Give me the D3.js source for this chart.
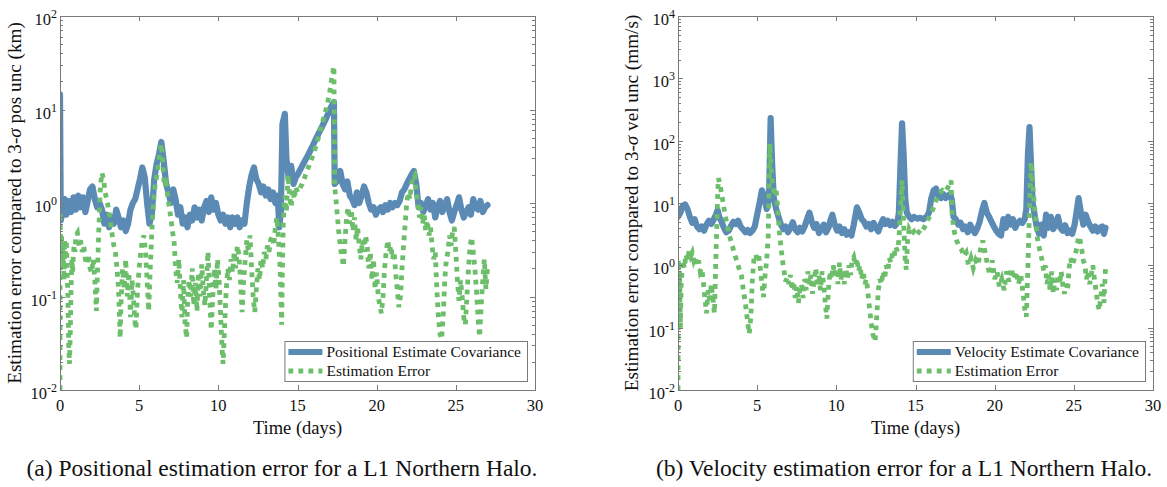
<!DOCTYPE html>
<html lang="en">
<head>
<meta charset="UTF-8">
<title>Estimation error, L1 Northern Halo</title>
<script src="https://d3js.org/d3.v7.min.js"></script>
<style>
  body { margin: 0; background: #fff; }
  svg text { font-family: "Liberation Serif", "Times New Roman", serif; fill: #111; }
</style>
</head>
<body>
<div id="graph"></div>
<script>
// ---- values: [time (days), error] ----
var xTicks = [0, 5, 10, 15, 20, 25, 30];
var posExp = [-2, -1, 0, 1, 2];
var velExp = [-2, -1, 0, 1, 2, 3, 4];

// (a) position, km
var posCov = [[0,14.5],[0.05,0.65],[0.15,0.8],[0.3,1.1],[0.4,0.75],[0.55,1.05],[0.7,0.8],[0.85,1.15],[1.0,0.85],[1.15,1.2],
  [1.3,0.9],[1.45,1.15],[1.6,0.8],[1.75,1.05],[1.9,1.4],[2.05,1.5],[2.2,1.1],[2.35,0.9],[2.5,1.0],[2.65,0.85],
  [2.8,0.6],[2.95,0.75],[3.1,0.55],[3.25,0.7],[3.4,0.6],[3.55,0.85],[3.7,0.7],[3.85,0.55],[4.0,0.65],[4.15,0.5],
  [4.3,0.6],[4.45,0.85],[4.6,1.0],[4.75,1.1],[4.9,1.4],[5.05,1.8],[5.2,2.4],[5.35,1.9],[5.5,1.0],[5.65,0.6],
  [5.8,0.75],[5.95,1.8],[6.1,2.6],[6.25,3.3],[6.4,4.5],[6.55,2.8],[6.7,1.6],[6.85,1.3],[7.0,1.0],[7.15,1.4],
  [7.3,1.1],[7.45,0.75],[7.6,0.9],[7.75,0.6],[7.9,0.7],[8.05,0.55],[8.2,0.75],[8.35,0.65],[8.5,0.9],[8.65,0.7],
  [8.8,0.85],[8.95,0.65],[9.1,0.9],[9.25,1.05],[9.4,0.8],[9.55,1.15],[9.7,0.85],[9.85,1.0],[10.0,0.75],[10.15,0.65],
  [10.3,0.75],[10.45,0.6],[10.6,0.7],[10.75,0.55],[10.9,0.7],[11.05,0.6],[11.2,0.7],[11.35,0.55],[11.5,0.65],[11.65,0.6],
  [11.8,1.0],[11.95,1.5],[12.1,2.0],[12.25,2.4],[12.4,1.8],[12.55,1.6],[12.7,1.3],[12.85,1.5],[13.0,1.2],[13.15,1.4],
  [13.3,1.1],[13.45,1.3],[13.6,1.0],[13.75,1.2],[13.85,0.55],[13.95,0.8],[14.05,7],[14.2,9],[14.3,3],[14.45,1.8],
  [14.6,2.5],[14.75,1.6],[14.9,1.9],[15.0,2.0],[15.3,2.5],[15.6,3.1],[15.9,3.9],[16.2,5.0],[16.5,6.3],[16.8,8.0],
  [17.1,10.5],[17.3,12],[17.35,1.6],[17.5,1.7],[17.7,2.2],[17.85,1.6],[18.0,1.4],[18.15,1.7],[18.3,1.2],[18.45,1.1],
  [18.6,0.95],[18.75,1.3],[18.9,1.0],[19.05,1.2],[19.2,1.5],[19.35,1.3],[19.5,1.0],[19.65,0.85],[19.8,0.9],[19.95,0.75],
  [20.1,0.85],[20.25,0.9],[20.4,0.8],[20.55,0.95],[20.7,0.85],[20.85,1.0],[21.0,0.9],[21.15,1.0],[21.3,0.95],[21.45,1.05],
  [21.6,1.3],[21.75,1.4],[21.9,1.6],[22.05,1.8],[22.2,2.0],[22.35,2.2],[22.5,1.6],[22.65,0.9],[22.8,1.0],[22.95,0.8],
  [23.1,0.95],[23.25,1.1],[23.4,0.85],[23.55,1.0],[23.7,0.7],[23.85,0.9],[24.0,1.05],[24.15,0.8],[24.3,0.95],[24.45,1.1],
  [24.6,0.8],[24.75,0.65],[24.9,0.8],[25.05,0.95],[25.2,1.15],[25.35,0.85],[25.5,0.7],[25.65,0.8],[25.8,0.9],[25.95,0.75],
  [26.1,1.1],[26.25,0.9],[26.4,0.85],[26.55,1.05],[26.7,0.8],[26.85,0.9],[27.0,0.95]];

var posErr = [[0,0.01],[0.01,0.8],[0.05,0.25],[0.1,0.45],[0.15,0.2],[0.2,0.35],[0.25,0.15],[0.3,0.4],[0.35,0.25],[0.4,0.4],
  [0.45,0.2],[0.5,0.1],[0.55,0.03],[0.6,0.019],[0.65,0.04],[0.7,0.12],[0.75,0.25],[0.8,0.18],[0.85,0.3],[0.9,0.35],
  [0.95,0.3],[1.0,0.45],[1.1,0.48],[1.2,0.35],[1.3,0.4],[1.4,0.3],[1.5,0.35],[1.6,0.25],[1.7,0.22],[1.8,0.28],
  [1.9,0.2],[2.0,0.18],[2.1,0.25],[2.2,0.15],[2.3,0.07],[2.35,0.15],[2.45,0.5],[2.55,1.5],[2.65,2.1],[2.75,1.8],
  [2.85,1.3],[3.0,1.0],[3.1,0.8],[3.2,0.6],[3.3,0.45],[3.4,0.35],[3.5,0.3],[3.6,0.2],[3.7,0.12],[3.8,0.036],
  [3.85,0.08],[3.95,0.2],[4.05,0.12],[4.15,0.25],[4.25,0.1],[4.35,0.18],[4.45,0.06],[4.55,0.15],[4.65,0.09],[4.75,0.05],
  [4.8,0.045],[4.9,0.12],[5.0,0.2],[5.1,0.3],[5.2,0.4],[5.3,0.45],[5.4,0.3],[5.5,0.15],[5.6,0.07],[5.7,0.2],
  [5.8,0.5],[5.9,1.0],[6.0,1.5],[6.1,1.9],[6.2,2.5],[6.3,3.5],[6.4,4.3],[6.5,2.5],[6.6,1.5],[6.7,1.6],
  [6.8,1.2],[6.9,0.9],[7.0,0.7],[7.1,0.5],[7.2,0.4],[7.3,0.2],[7.4,0.14],[7.5,0.25],[7.6,0.12],[7.7,0.06],
  [7.8,0.15],[7.9,0.05],[8.0,0.036],[8.05,0.08],[8.15,0.15],[8.25,0.1],[8.35,0.2],[8.45,0.08],[8.55,0.14],[8.65,0.07],
  [8.75,0.18],[8.85,0.1],[8.95,0.22],[9.05,0.12],[9.15,0.08],[9.25,0.15],[9.35,0.3],[9.45,0.1],[9.55,0.044],[9.65,0.1],
  [9.75,0.2],[9.85,0.12],[9.95,0.25],[10.05,0.15],[10.15,0.06],[10.25,0.025],[10.3,0.019],[10.4,0.05],[10.5,0.12],[10.6,0.2],
  [10.7,0.15],[10.8,0.25],[10.9,0.18],[11.0,0.3],[11.1,0.2],[11.2,0.35],[11.3,0.28],[11.4,0.15],[11.5,0.068],[11.6,0.15],
  [11.7,0.25],[11.8,0.4],[11.9,0.3],[12.0,0.45],[12.1,0.2],[12.2,0.1],[12.3,0.068],[12.4,0.12],[12.5,0.2],[12.6,0.15],
  [12.7,0.25],[12.8,0.2],[12.9,0.3],[13.0,0.25],[13.1,0.35],[13.2,0.3],[13.3,0.4],[13.4,0.45],[13.5,0.35],[13.6,0.55],
  [13.7,0.7],[13.8,0.4],[13.9,0.2],[14.0,0.05],[14.05,0.2],[14.1,0.6],[14.2,1.2],[14.3,0.8],[14.4,2.0],[14.5,1.2],
  [14.6,0.9],[14.7,1.4],[14.8,1.1],[14.9,1.5],[15.0,1.3],[15.3,1.6],[15.6,2.2],[15.9,3.0],[16.2,4.2],[16.5,6.5],
  [16.8,10],[17.0,14],[17.15,21],[17.3,29],[17.35,1.5],[17.45,1.0],[17.6,0.5],[17.75,0.3],[17.9,0.21],[18.0,0.4],
  [18.1,0.7],[18.2,0.9],[18.3,0.6],[18.4,0.85],[18.5,0.5],[18.6,0.7],[18.7,0.4],[18.8,0.55],[18.9,0.35],[19.0,0.25],
  [19.1,0.4],[19.2,0.3],[19.3,0.45],[19.4,0.35],[19.5,0.2],[19.6,0.3],[19.7,0.15],[19.8,0.25],[19.9,0.12],[20.0,0.18],
  [20.1,0.1],[20.2,0.08],[20.3,0.066],[20.4,0.1],[20.5,0.2],[20.6,0.3],[20.7,0.4],[20.8,0.3],[20.9,0.35],[21.0,0.25],
  [21.1,0.3],[21.2,0.18],[21.3,0.12],[21.4,0.077],[21.5,0.1],[21.6,0.2],[21.7,0.35],[21.8,0.6],[21.9,1.0],[22.0,1.3],
  [22.1,1.1],[22.2,1.6],[22.3,1.9],[22.4,2.0],[22.5,1.3],[22.6,1.0],[22.7,0.7],[22.8,0.9],[22.9,0.6],[23.0,0.75],
  [23.1,0.5],[23.2,0.65],[23.3,0.45],[23.4,0.55],[23.5,0.35],[23.6,0.25],[23.7,0.3],[23.8,0.12],[23.9,0.06],[24.0,0.04],
  [24.1,0.035],[24.2,0.06],[24.3,0.15],[24.4,0.25],[24.5,0.3],[24.6,0.45],[24.7,0.35],[24.8,0.5],[24.9,0.55],[25.0,0.3],
  [25.1,0.15],[25.2,0.09],[25.3,0.15],[25.4,0.1],[25.5,0.06],[25.6,0.05],[25.7,0.1],[25.8,0.2],[25.9,0.35],[26.0,0.43],
  [26.1,0.3],[26.2,0.2],[26.3,0.12],[26.4,0.06],[26.5,0.037],[26.6,0.08],[26.7,0.15],[26.8,0.25],[26.9,0.12],[27.0,0.2]];

// (b) velocity, mm/s
var velCov = [[0,6.0],[0.15,7],[0.3,9],[0.45,9.5],[0.6,8],[0.75,6],[0.9,4.8],[1.05,5.5],[1.2,4.2],[1.35,3.8],
  [1.5,4.2],[1.65,3.6],[1.8,4.5],[1.95,5.2],[2.1,4.6],[2.25,5.4],[2.4,6.5],[2.5,7.7],[2.6,6],[2.75,5],
  [2.9,4],[3.05,3.4],[3.2,3.6],[3.35,4.3],[3.5,5],[3.65,4.6],[3.8,5.2],[3.95,4.2],[4.1,3.8],[4.25,3.4],
  [4.4,3.7],[4.55,3.3],[4.7,3.6],[4.85,4.2],[5.0,6.5],[5.15,10],[5.3,16],[5.45,13],[5.6,8],[5.75,12],
  [5.85,230],[5.95,40],[6.05,12],[6.2,8],[6.35,6],[6.5,4.5],[6.65,3.8],[6.8,4.2],[6.95,3.4],[7.1,4.0],
  [7.25,4.9],[7.4,3.8],[7.55,3.4],[7.7,4.0],[7.85,3.5],[8.0,4.2],[8.15,5.5],[8.3,7],[8.45,5.0],[8.6,4.0],
  [8.75,4.6],[8.9,3.3],[9.05,3.8],[9.2,4.5],[9.35,3.4],[9.5,4.0],[9.65,5.5],[9.75,6.5],[9.9,4.5],[10.05,3.6],
  [10.2,4.2],[10.35,3.3],[10.5,3.8],[10.65,3.1],[10.8,3.4],[10.95,3.0],[11.1,4.5],[11.3,8.5],[11.45,7],[11.6,5.5],
  [11.75,5.0],[11.9,4.2],[12.05,4.6],[12.2,3.8],[12.35,4.8],[12.5,4.0],[12.65,3.5],[12.8,4.5],[12.95,5.5],[13.1,4.6],
  [13.25,5.2],[13.4,4.4],[13.55,5.0],[13.7,4.3],[13.85,4.8],[13.95,7],[14.05,40],[14.15,190],[14.25,60],[14.35,12],
  [14.45,7],[14.6,6],[14.75,5.5],[14.9,6],[15.1,5.6],[15.3,5.8],[15.5,5.5],[15.7,6.0],[15.85,7],[16.0,12],
  [16.15,16],[16.3,17],[16.45,13],[16.6,12],[16.75,14],[16.9,12],[17.05,13],[17.2,14],[17.3,11],[17.4,6],
  [17.55,5.5],[17.7,4.5],[17.85,4.8],[18.0,3.8],[18.15,4.2],[18.3,3.4],[18.45,4.5],[18.6,3.8],[18.75,3.3],[18.9,3.9],
  [19.05,5.0],[19.2,7.5],[19.35,10],[19.5,7],[19.65,6],[19.8,5],[19.95,4.2],[20.1,3.6],[20.25,3.2],[20.4,3.0],
  [20.55,5.5],[20.7,4.0],[20.85,6.0],[21.0,4.5],[21.15,5.5],[21.3,4.0],[21.45,4.8],[21.6,5.2],[21.75,4.8],[21.9,5.5],
  [22.0,8],[22.1,60],[22.2,165],[22.3,40],[22.4,10],[22.5,7],[22.65,4.2],[22.8,3.2],[22.95,4.5],[23.1,3.0],
  [23.25,6.5],[23.4,4.0],[23.55,6.0],[23.7,3.8],[23.85,4.5],[24.0,6.0],[24.15,4.0],[24.3,3.6],[24.45,4.4],[24.6,3.3],
  [24.75,3.6],[24.9,3.2],[25.05,4.5],[25.2,8],[25.3,12],[25.45,7],[25.6,4.5],[25.75,6.5],[25.9,5.0],[26.05,4.2],
  [26.2,3.6],[26.35,4.2],[26.5,3.5],[26.65,4.0],[26.8,4.2],[26.9,3.2],[27.0,4.0]];

var velErr = [[0,0.01],[0.02,1.2],[0.05,0.3],[0.1,0.8],[0.15,0.1],[0.2,0.5],[0.3,1.2],[0.4,0.9],[0.5,1.5],[0.6,1.2],
  [0.7,1.7],[0.8,1.4],[0.9,1.6],[1.0,1.2],[1.1,1.4],[1.2,1.0],[1.3,1.2],[1.4,0.8],[1.5,0.9],[1.6,0.55],
  [1.7,0.3],[1.8,0.17],[1.9,0.4],[2.0,0.25],[2.1,0.5],[2.2,0.3],[2.3,0.17],[2.4,1.5],[2.5,12],[2.55,25],
  [2.65,20],[2.8,12],[2.95,7],[3.1,4.5],[3.25,3.0],[3.4,2.2],[3.55,1.6],[3.7,1.2],[3.85,0.9],[4.0,0.7],
  [4.1,0.45],[4.2,0.3],[4.3,0.2],[4.4,0.12],[4.5,0.08],[4.6,0.15],[4.7,0.6],[4.8,1.3],[4.9,1.5],[5.0,1.2],
  [5.1,1.4],[5.2,0.9],[5.3,0.5],[5.4,0.31],[5.5,0.7],[5.6,1.2],[5.7,3],[5.8,90],[5.9,30],[6.0,18],
  [6.1,14],[6.2,16],[6.3,8],[6.4,3.5],[6.5,2.0],[6.6,1.2],[6.7,0.8],[6.8,0.55],[6.9,0.65],[7.0,0.5],
  [7.1,0.7],[7.2,0.4],[7.3,0.55],[7.4,0.3],[7.5,0.45],[7.6,0.25],[7.7,0.4],[7.8,0.5],[7.9,0.3],[8.0,0.6],
  [8.1,0.4],[8.2,0.8],[8.3,0.5],[8.4,0.7],[8.5,0.35],[8.6,0.6],[8.7,0.9],[8.8,0.45],[8.9,0.7],[9.0,0.4],
  [9.1,0.8],[9.2,0.5],[9.3,0.25],[9.4,0.14],[9.5,0.4],[9.6,0.8],[9.7,0.6],[9.8,1.0],[9.9,0.7],[10.0,0.9],
  [10.1,0.5],[10.2,1.1],[10.3,0.6],[10.4,0.8],[10.5,0.5],[10.6,0.9],[10.7,0.6],[10.8,1.0],[10.9,0.7],[11.0,1.2],
  [11.1,1.35],[11.2,1.0],[11.3,1.3],[11.4,0.8],[11.5,1.0],[11.6,0.6],[11.7,0.8],[11.8,0.5],[11.9,0.6],[12.0,0.35],
  [12.1,0.2],[12.2,0.12],[12.3,0.08],[12.45,0.06],[12.55,0.15],[12.65,0.4],[12.75,0.6],[12.85,0.5],[12.95,0.8],[13.05,0.6],
  [13.15,1.0],[13.25,0.8],[13.35,1.3],[13.45,1.1],[13.55,1.6],[13.65,1.4],[13.75,2.0],[13.85,1.7],[13.95,2.5],[14.05,8],
  [14.15,23],[14.25,5],[14.35,1.2],[14.42,0.85],[14.5,2.5],[14.6,3.8],[14.75,3.2],[14.9,3.5],[15.05,3.0],[15.2,3.4],
  [15.35,3.2],[15.5,3.8],[15.65,4.5],[15.8,5.5],[15.95,6.5],[16.1,8],[16.3,11],[16.5,14],[16.7,16],[16.9,15],
  [17.1,19],[17.25,23],[17.32,6],[17.45,3.5],[17.6,2.5],[17.75,2.0],[17.9,1.8],[18.05,1.4],[18.2,1.6],[18.35,1.0],
  [18.5,1.3],[18.65,0.9],[18.8,1.2],[18.95,1.0],[19.1,1.8],[19.25,2.5],[19.4,1.6],[19.55,1.0],[19.7,0.7],[19.85,1.2],
  [20.0,0.6],[20.15,0.8],[20.3,0.45],[20.45,0.6],[20.6,0.4],[20.75,0.8],[20.9,0.55],[21.05,0.9],[21.2,0.6],[21.35,0.8],
  [21.5,0.5],[21.65,0.7],[21.8,0.35],[21.9,0.2],[22.0,0.15],[22.1,1.0],[22.2,8],[22.3,45],[22.4,20],[22.5,10],
  [22.6,5],[22.7,2.7],[22.8,2.0],[22.9,1.5],[23.0,1.2],[23.1,0.8],[23.2,1.0],[23.3,0.5],[23.4,0.7],[23.5,0.4],
  [23.6,0.8],[23.7,0.35],[23.8,0.6],[23.9,0.4],[24.0,0.7],[24.1,0.5],[24.2,0.8],[24.3,0.5],[24.4,0.35],[24.5,0.5],
  [24.6,0.4],[24.7,0.9],[24.8,1.3],[24.9,1.0],[25.0,1.2],[25.1,1.5],[25.2,2.0],[25.3,2.9],[25.4,2.5],[25.5,1.8],
  [25.6,1.2],[25.7,1.0],[25.8,0.6],[25.9,0.8],[26.0,0.5],[26.1,0.7],[26.2,1.0],[26.3,0.6],[26.4,0.4],[26.5,0.25],
  [26.6,0.19],[26.7,0.3],[26.8,0.5],[26.9,0.25],[27.0,0.9]];

var covColor = "#5b8bb5";
var errColor = "#6dbe6b";
var axisColor = "#7a7a7a";

var width = 1167, height = 487;
var svg = d3.select("#graph").append("svg")
    .attr("width", width)
    .attr("height", height);

var panels = [
    { key: "a", left: 60, right: 535, top: 16, bottom: 390, exps: posExp, cov: posCov, err: posErr,
      yLabelX: 21, yLabel: ["Estimation error compared to 3-", "\u03C3", " pos unc (km)"],
      covName: "Positional Estimate Covariance", errName: "Estimation Error",
      caption: "(a) Positional estimation error for a L1 Northern Halo.", capX: 282 },
    { key: "b", left: 678, right: 1153, top: 16, bottom: 390, exps: velExp, cov: velCov, err: velErr,
      yLabelX: 638, yLabel: ["Estimation error compared to 3-", "\u03C3", " vel unc (mm/s)"],
      covName: "Velocity Estimate Covariance", errName: "Estimation Error",
      caption: "(b) Velocity estimation error for a L1 Northern Halo.", capX: 904 }
];

panels.forEach(drawPanel);

function drawPanel(p) {
    var x = d3.scaleLinear().domain([0, 30]).range([p.left, p.right]);
    var y = d3.scaleLog()
        .domain([Math.pow(10, p.exps[0]), Math.pow(10, p.exps[p.exps.length - 1])])
        .range([p.bottom, p.top]);

    svg.append("clipPath").attr("id", "clip" + p.key)
        .append("rect")
        .attr("x", p.left).attr("y", p.top)
        .attr("width", p.right - p.left).attr("height", p.bottom - p.top);

    var line = d3.line().x(d => x(d[0])).y(d => y(d[1]));
    var plot = svg.append("g").attr("clip-path", "url(#clip" + p.key + ")");

    plot.append("path").datum(p.cov)
        .attr("d", line)
        .attr("fill", "none")
        .attr("stroke", covColor)
        .attr("stroke-width", 6.2)
        .attr("stroke-linejoin", "round")
        .attr("stroke-linecap", "round");

    plot.append("path").datum(p.err)
        .attr("d", line)
        .attr("fill", "none")
        .attr("stroke", errColor)
        .attr("stroke-width", 4.8)
        .attr("stroke-dasharray", "4.8,5.2")
        .attr("stroke-linejoin", "miter");

    // box
    svg.append("rect")
        .attr("x", p.left + 0.5).attr("y", p.top + 0.5)
        .attr("width", p.right - p.left).attr("height", p.bottom - p.top)
        .attr("fill", "none").attr("stroke", axisColor).attr("stroke-width", 1);

    var ticks = svg.append("g").attr("stroke", axisColor).attr("stroke-width", 1);

    // x ticks, inward on bottom and top
    xTicks.forEach(function (t) {
        var px = Math.round(x(t)) + 0.5;
        ticks.append("line").attr("x1", px).attr("x2", px).attr("y1", p.bottom).attr("y2", p.bottom - 5);
        ticks.append("line").attr("x1", px).attr("x2", px).attr("y1", p.top).attr("y2", p.top + 5);
    });

    // y ticks, major at decades and minor in between
    var yMajor = p.exps.map(e => Math.pow(10, e));
    var yMinor = [];
    for (var i = 0; i < p.exps.length - 1; i++) {
        for (var k = 2; k <= 9; k++) yMinor.push(k * Math.pow(10, p.exps[i]));
    }
    yMajor.forEach(function (v) {
        var py = Math.round(y(v)) + 0.5;
        ticks.append("line").attr("x1", p.left).attr("x2", p.left + 5).attr("y1", py).attr("y2", py);
        ticks.append("line").attr("x1", p.right).attr("x2", p.right - 5).attr("y1", py).attr("y2", py);
    });
    yMinor.forEach(function (v) {
        var py = Math.round(y(v)) + 0.5;
        ticks.append("line").attr("x1", p.left).attr("x2", p.left + 3).attr("y1", py).attr("y2", py);
        ticks.append("line").attr("x1", p.right).attr("x2", p.right - 3).attr("y1", py).attr("y2", py);
    });

    // x tick labels
    svg.append("g").selectAll("text")
        .data(xTicks).enter().append("text")
        .attr("x", d => x(d))
        .attr("y", p.bottom + 21)
        .attr("text-anchor", "middle")
        .attr("font-size", 16.5)
        .text(d => d);

    // y tick labels 10^e
    var yl = svg.append("g").selectAll("text")
        .data(p.exps).enter().append("text")
        .attr("x", p.left - 3)
        .attr("y", d => y(Math.pow(10, d)) + 9)
        .attr("text-anchor", "end")
        .attr("font-size", 16.5);
    yl.append("tspan").text("10");
    yl.append("tspan").attr("dy", -7).attr("font-size", 12).text(d => d < 0 ? "-" + (-d) : d);

    // axis labels
    svg.append("text")
        .attr("x", (p.left + p.right) / 2)
        .attr("y", p.bottom + 44)
        .attr("text-anchor", "middle")
        .attr("font-size", 18.5)
        .text("Time (days)");

    var yt = svg.append("text")
        .attr("transform", "translate(" + p.yLabelX + "," + (p.top + p.bottom) / 2 + ") rotate(-90)")
        .attr("text-anchor", "middle")
        .attr("font-size", 19.2);
    yt.append("tspan").text(p.yLabel[0]);
    yt.append("tspan").attr("font-style", "italic").text(p.yLabel[1]);
    yt.append("tspan").text(p.yLabel[2]);

    // legend
    var lg = svg.append("g");
    var t1 = lg.append("text").attr("font-size", 15.5).text(p.covName);
    var t2 = lg.append("text").attr("font-size", 15.5).text(p.errName);
    var textW = Math.max(t1.node().getComputedTextLength(), t2.node().getComputedTextLength());
    var boxRight = p.right - 8;
    var boxW = 42 + textW + 6;
    var boxLeft = boxRight - boxW;
    var boxTop = p.bottom - 49, boxBottom = p.bottom - 9;
    lg.insert("rect", "text")
        .attr("x", boxLeft + 0.5).attr("y", boxTop + 0.5)
        .attr("width", boxW).attr("height", boxBottom - boxTop)
        .attr("fill", "#fff").attr("stroke", axisColor).attr("stroke-width", 1);
    lg.append("line")
        .attr("x1", boxLeft + 4).attr("x2", boxLeft + 38)
        .attr("y1", boxTop + 11).attr("y2", boxTop + 11)
        .attr("stroke", covColor).attr("stroke-width", 6);
    lg.append("line")
        .attr("x1", boxLeft + 4).attr("x2", boxLeft + 38)
        .attr("y1", boxTop + 30).attr("y2", boxTop + 30)
        .attr("stroke", errColor).attr("stroke-width", 4.8)
        .attr("stroke-dasharray", "4.8,5.2");
    t1.attr("x", boxLeft + 42).attr("y", boxTop + 16);
    t2.attr("x", boxLeft + 42).attr("y", boxTop + 35);

    // caption
    svg.append("text")
        .attr("x", p.capX)
        .attr("y", 476)
        .attr("text-anchor", "middle")
        .attr("font-size", 23.5)
        .text(p.caption);
}
</script>
</body>
</html>
